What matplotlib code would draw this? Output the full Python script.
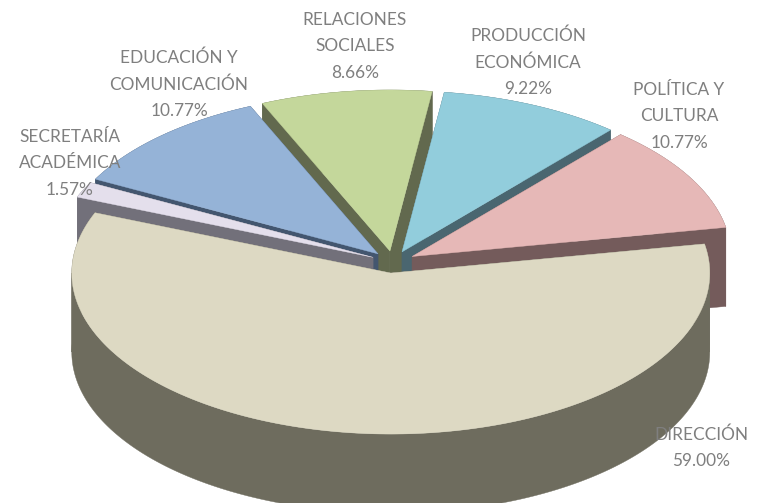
import numpy as np
import matplotlib
matplotlib.use('Agg')
import matplotlib.pyplot as plt
from matplotlib.patches import Polygon

plt.rcParams['font.family'] = ['Lato', 'DejaVu Sans']

# Datos, en el orden en que Excel recorre el pastel
areas = ['DIRECCIÓN', 'POLÍTICA Y\nCULTURA', 'PRODUCCIÓN\nECONÓMICA',
         'RELACIONES\nSOCIALES', 'EDUCACIÓN Y\nCOMUNICACIÓN', 'SECRETARÍA\nACADÉMICA']
porcentajes = [59.00, 10.77, 9.22, 8.66, 10.77, 1.57]

colores_tapa = ['#DDD9C3', '#E6B8B7', '#92CDDC', '#C4D79B', '#95B3D7', '#E4DFEC']
colores_lado = ['#6E6C5E', '#745B5B', '#4A6670', '#62694E', '#43566F', '#72707A']

# Centro de la etiqueta (x, y de la primera linea) en pixeles
pos_etiquetas = [(701, 432), (679, 88), (528, 33), (355, 18), (179, 55), (70, 135)]

# Geometria del pastel
cx, cy = 393, 262
radio_x, radio_y = 319, 161
alto = 79
explosion = 0.069
angulo_inicio = 158.0


def borde(x0, y0, t1, t2):
    t = np.radians(np.linspace(t1, t2, 200))
    return np.column_stack([x0 + radio_x * np.cos(t), y0 - radio_y * np.sin(t)])


fig = plt.figure(figsize=(7.57, 5.03), dpi=100)
ax = fig.add_axes([0, 0, 1, 1])
ax.set_xlim(0, 757)
ax.set_ylim(503, 0)
ax.axis('off')

# Angulos de cada porcion
total = sum(porcentajes)
porciones = []
inicio = angulo_inicio
for i, p in enumerate(porcentajes):
    fin = inicio + p / total * 360
    medio = np.radians((inicio + fin) / 2)
    x0 = cx + explosion * radio_x * np.cos(medio)
    y0 = cy - explosion * radio_y * np.sin(medio)
    porciones.append((np.sin(medio), i, inicio, fin, x0, y0))
    inicio = fin

# De atras hacia adelante
z = 1
for _, i, t1, t2, x0, y0 in sorted(porciones, key=lambda s: -s[0]):
    arco = borde(x0, y0, t1, t2)
    centro = np.array([[x0, y0]])
    lado = colores_lado[i]
    # paredes radiales
    for extremo in (arco[0], arco[-1]):
        pared = np.vstack([centro, [extremo], [extremo + [0, alto]], centro + [0, alto]])
        ax.add_patch(Polygon(pared, fc=lado, ec=lado, lw=0.3, zorder=z))
        z += 1
    # pared exterior, partida en los extremos de la elipse para que no se cruce
    cortes = [t1] + [c for c in (180, 360) if t1 < c < t2] + [t2]
    for a, b in zip(cortes[:-1], cortes[1:]):
        tramo = borde(x0, y0, a, b)
        ax.add_patch(Polygon(np.vstack([tramo, tramo[::-1] + [0, alto]]), fc=lado, ec=lado, lw=0.3, zorder=z))
        z += 1
    # tapa
    ax.add_patch(Polygon(np.vstack([centro, arco]), fc=colores_tapa[i], ec=colores_tapa[i], lw=0.3, zorder=z))
    z += 1

for nombre, p, (x, y) in zip(areas, porcentajes, pos_etiquetas):
    ax.text(x, y - 6, f'{nombre}\n{p:.2f}%', ha='center', va='top', fontsize=12.4,
            color='#7F7F7F', linespacing=1.8, zorder=z)

fig.savefig('out.png', dpi=100)
